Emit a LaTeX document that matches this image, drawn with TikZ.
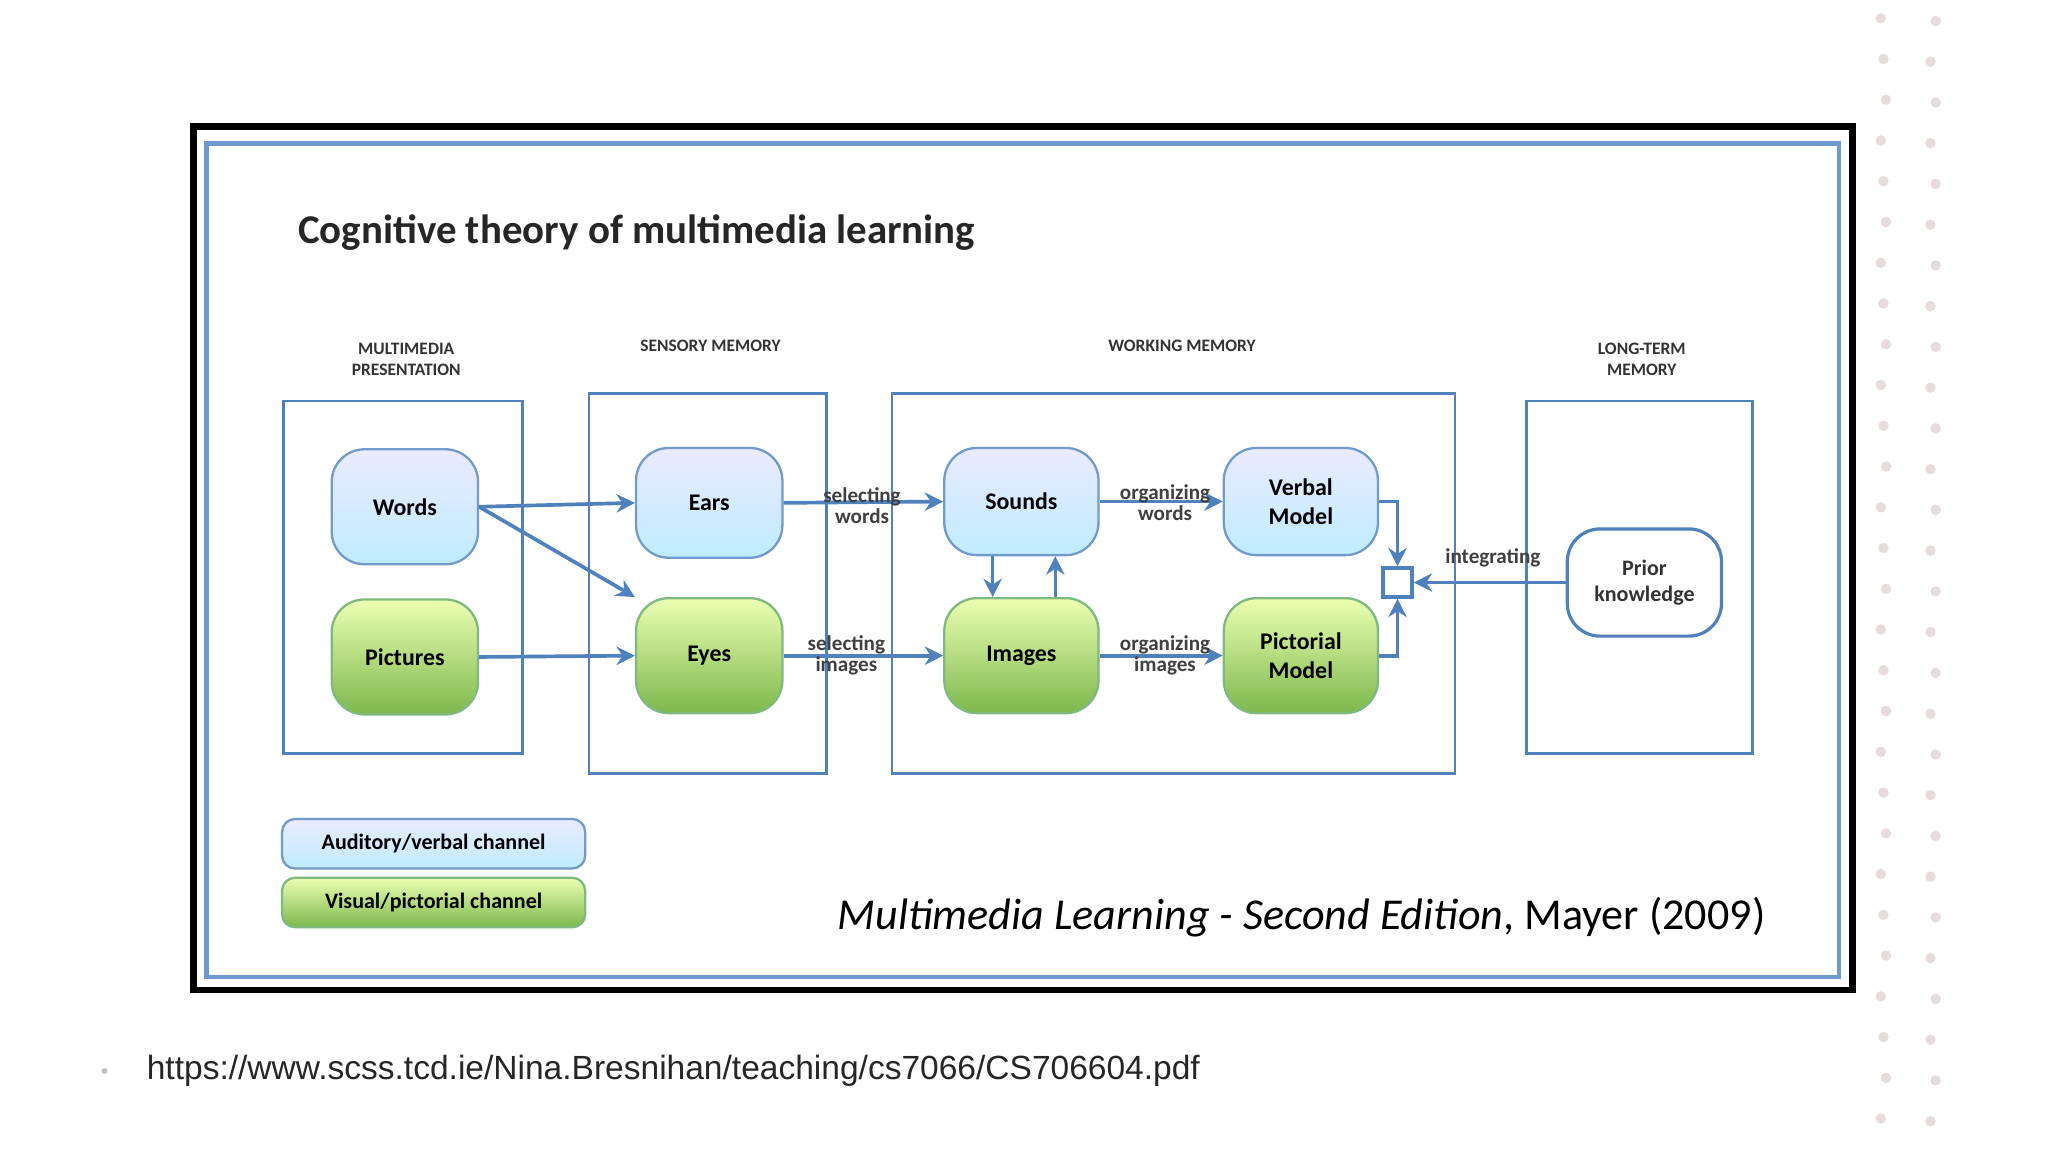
\documentclass[tikz,border=0pt]{standalone}
\usepackage{fontspec}
\setmainfont{Carlito}
\newfontfamily\urlfont{Liberation Sans}
\usetikzlibrary{arrows.meta}
\definecolor{sb}{HTML}{4F81BD}
\definecolor{fr}{HTML}{6D9BD1}
\definecolor{dotc}{HTML}{E6DCDC}
\tikzset{
 sec/.style={draw=sb,line width=0.6pt},
 blu/.style={draw=sb!80,line width=0.5pt,rounded corners=2.5mm,top color=blue!8,bottom color=blue!30!cyan!25!white,font=\bfseries\fontsize{5.2}{6.2}\selectfont,align=center},
 grn/.style={draw=green!45!black!50,line width=0.5pt,rounded corners=2.5mm,top color=green!25!yellow!30,bottom color=green!55!yellow!60!black!70,font=\bfseries\fontsize{5.2}{6.2}\selectfont,align=center},
 arr/.style={draw=sb,line width=0.8pt,-{Stealth[length=4pt,width=4pt]}},
 hd/.style={font=\bfseries\fontsize{3.8}{4.6}\selectfont,align=center,text=black!80},
 lab/.style={font=\bfseries\fontsize{4.6}{4.6}\selectfont,align=center,text=black!75,inner sep=0pt},
}
\begin{document}
\begin{tikzpicture}[x=0.01cm,y=-0.01cm]
\useasboundingbox (0,0) rectangle (1568,882);
\fill[white] (0,0) rectangle (1568,882);
% decorative dots
\foreach \i in {0,...,27}{
 \fill[dotc] ({1440+mod(\i,3)*2},{14+\i*31.2}) circle (4);
 \fill[dotc] ({1482-mod(\i,2)*4},{16+\i*31.2}) circle (4);
}
% frames
\draw[line width=1.5pt] (148,97) rectangle (1418,758);
\draw[fr,line width=1pt] (158,110) rectangle (1408,748);
\node[anchor=west,font=\bfseries\fontsize{8.9}{9}\selectfont,text=black!85] (title) at (216,178) {Cognitive theory of multimedia learning};
% headings
\node[hd] (h1) at (311,275) {MULTIMEDIA\\PRESENTATION};
\node[hd] (h2) at (544,265) {SENSORY MEMORY};
\node[hd] (h3) at (905,265) {WORKING MEMORY};
\node[hd] (h4) at (1257,275) {LONG-TERM\\MEMORY};
% section boxes
\draw[sec] (217,307) rectangle (400,577);
\draw[sec] (451,301) rectangle (633,592);
\draw[sec] (683,301) rectangle (1114,592);
\draw[sec] (1169,307) rectangle (1342,577);
% nodes
\node[blu,minimum width=1.12cm,minimum height=0.88cm] (words) at (310,388) {Words};
\node[grn,minimum width=1.12cm,minimum height=0.88cm] (pictures) at (310,503) {Pictures};
\node[blu,minimum width=1.12cm,minimum height=0.84cm] (ears) at (543,385) {Ears};
\node[grn,minimum width=1.12cm,minimum height=0.88cm] (eyes) at (543,502) {Eyes};
\node[blu,minimum width=1.18cm,minimum height=0.82cm] (sounds) at (782,384) {Sounds};
\node[grn,minimum width=1.18cm,minimum height=0.88cm] (images) at (782,502) {Images};
\node[blu,minimum width=1.18cm,minimum height=0.82cm] (verbal) at (996,384) {Verbal\\Model};
\node[grn,minimum width=1.18cm,minimum height=0.88cm] (pictorial) at (996,502) {Pictorial\\Model};
\node[draw=sb,line width=0.7pt,rounded corners=2.5mm,fill=white,minimum width=1.18cm,minimum height=0.82cm,align=center,font=\bfseries\fontsize{4.8}{5.8}\selectfont,text=black!80] (prior) at (1259,446) {Prior\\knowledge};
\node[draw=sb,line width=0.8pt,fill=white,minimum size=0.22cm,inner sep=0pt] (sq) at (1070,446) {};
% arrows
\draw[arr] (words.east) -- (ears.west);
\draw[arr] (words.east) -- (eyes.north west);
\draw[arr] (pictures.east) -- (eyes.west);
\draw[arr] (ears.east) -- (sounds.west);
\draw[arr] (eyes.east) -- (images.west);
\draw[arr] (sounds.east) -- (verbal.west);
\draw[arr] (images.east) -- (pictorial.west);
\draw[arr] (sounds.south -| 760,0) -- (images.north -| 760,0);
\draw[arr] (images.north -| 808,0) -- (sounds.south -| 808,0);
\draw[arr] (verbal.east) -| (sq.north);
\draw[arr] (pictorial.east) -| (sq.south);
\draw[arr] (prior.west) -- (sq.east);
% labels
\node[lab] (l1) at (660,387) {selecting\\words};
\node[lab] (l2) at (648,502) {selecting\\images};
\node[lab] (l3) at (892,385) {organizing\\words};
\node[lab] (l4) at (892,502) {organizing\\images};
\node[lab] (l5) at (1143,427) {integrating};
% legend
\node[blu,rounded corners=1mm,minimum width=2.32cm,minimum height=0.32cm,font=\bfseries\fontsize{4.8}{6}\selectfont] (lg1) at (332,646) {Auditory/verbal channel};
\node[grn,rounded corners=1mm,minimum width=2.32cm,minimum height=0.32cm,font=\bfseries\fontsize{4.8}{6}\selectfont] (lg2) at (332,691) {Visual/pictorial channel};
\node[anchor=east,font=\fontsize{9.6}{10}\selectfont,text=black] (cite) at (1364,702) {\itshape Multimedia Learning - Second Edition\upshape, Mayer (2009)};
% url
\fill[black!25] (80,820) circle (2.2);
\node[anchor=west,font=\urlfont\fontsize{7.3}{8}\selectfont,text=black!85] (url) at (100,820) {https://www.scss.tcd.ie/Nina.Bresnihan/teaching/cs7066/CS706604.pdf};
\end{tikzpicture}
\end{document}
